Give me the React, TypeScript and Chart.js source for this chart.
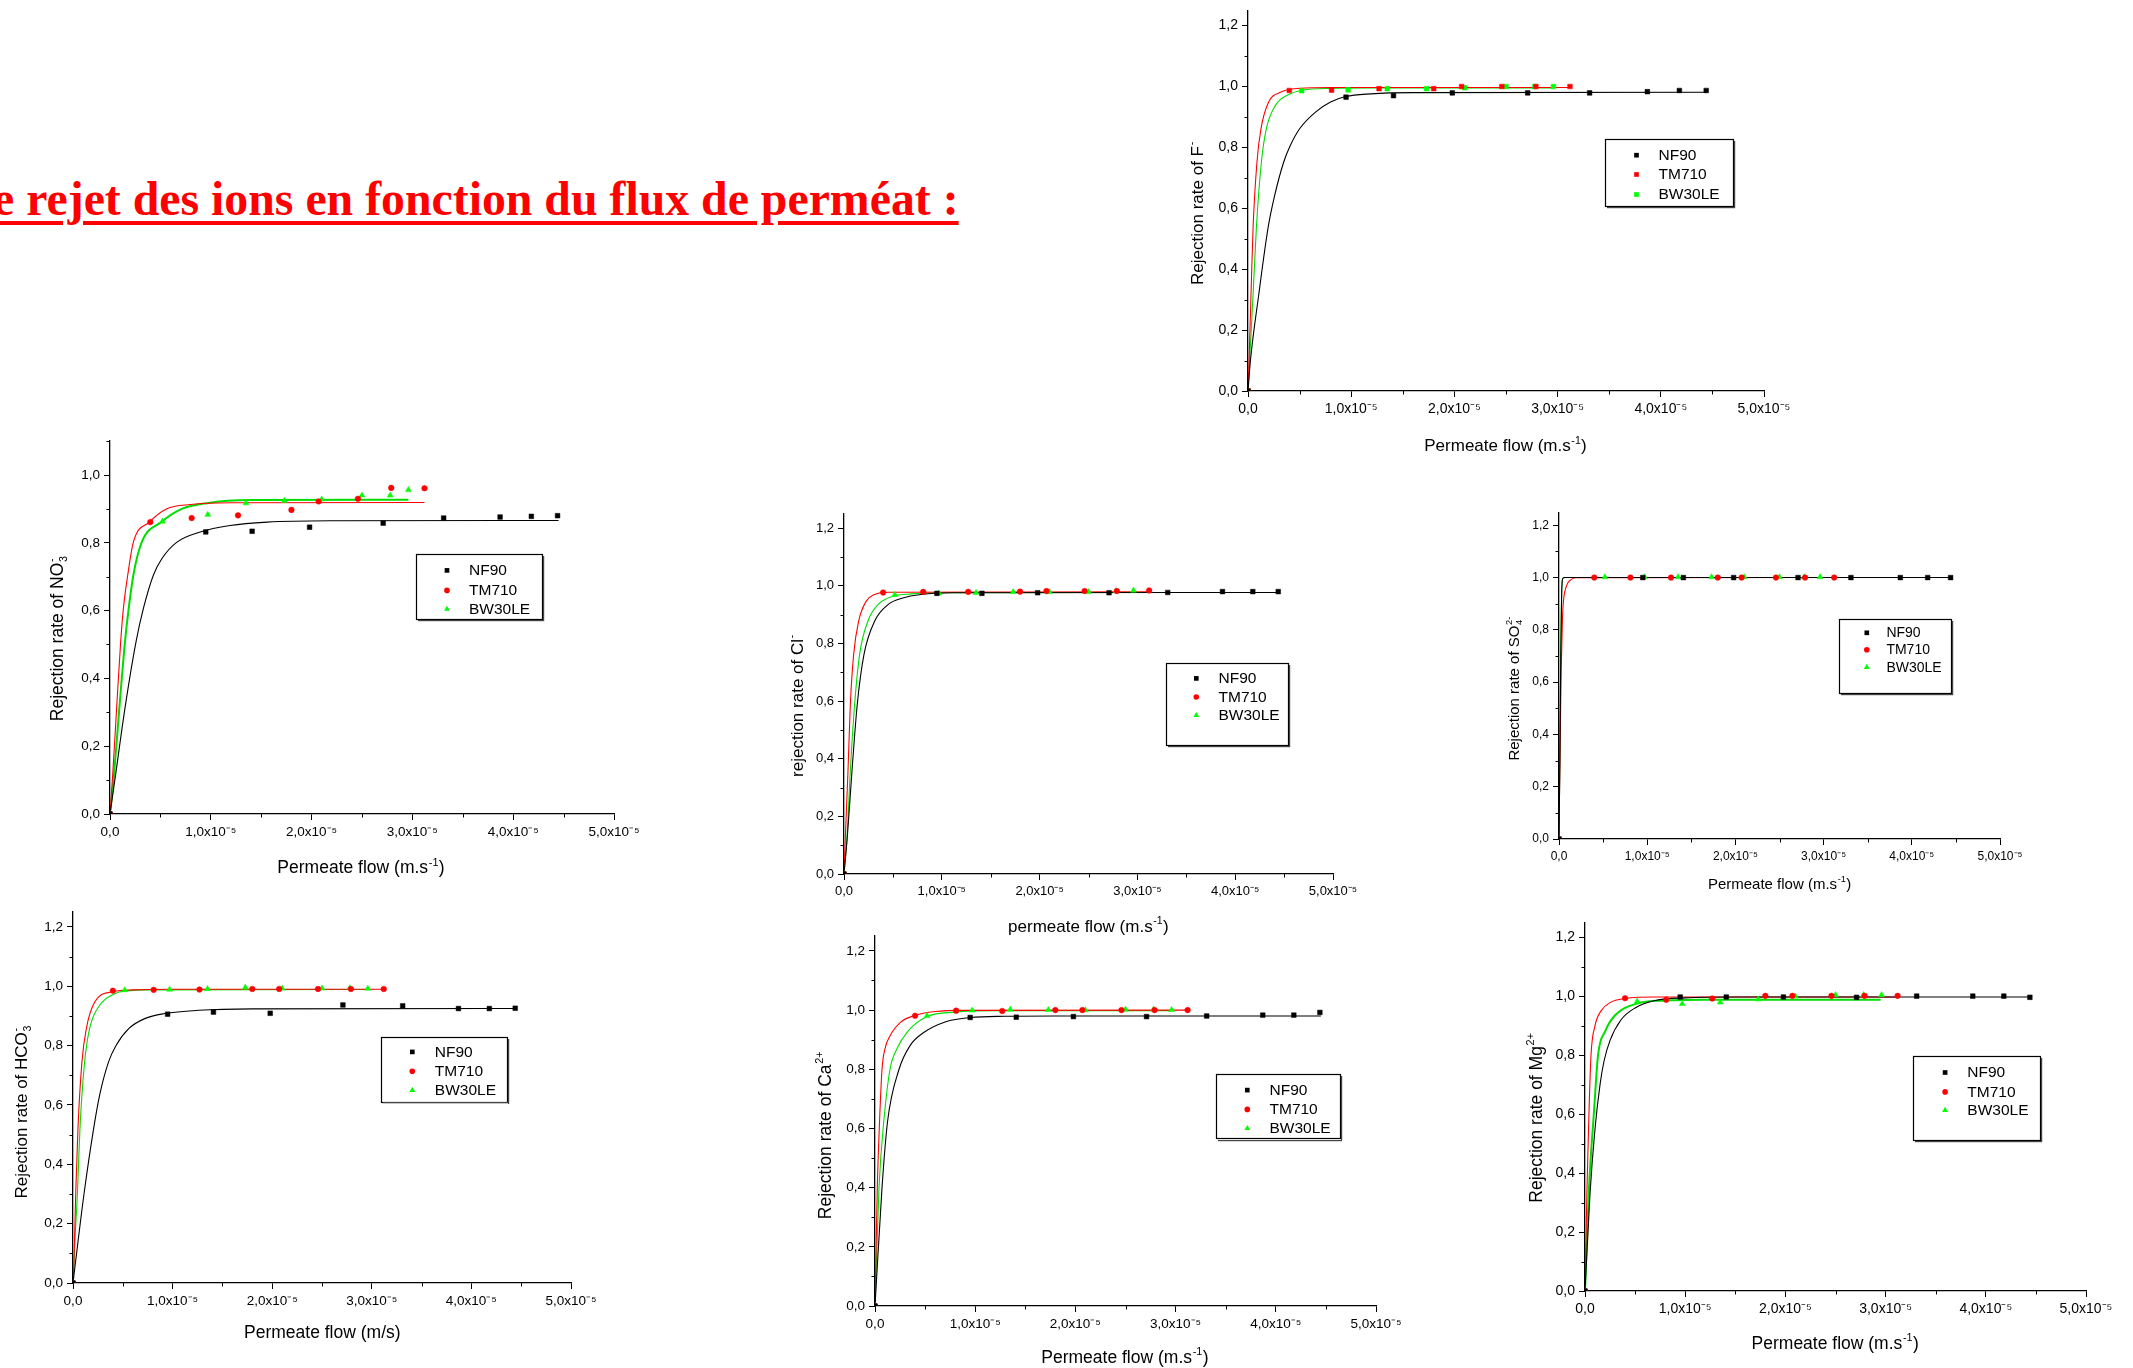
import React, { useEffect, useRef } from 'react';
import { Chart, registerables } from 'chart.js';

Chart.register(...registerables);

// ---------------- DATA ----------------
// Permeate flow, in units of 1e-5 m/s
const flowNF90 = [0, 0.95, 1.41, 1.98, 2.71, 3.31, 3.87, 4.18, 4.44];
const flowTM710 = [0, 0.40, 0.81, 1.27, 1.80, 2.07, 2.46, 2.79, 3.12];
const flowBW30LE = [0, 0.52, 0.97, 1.35, 1.73, 2.10, 2.50, 2.78, 2.96];

const membraneNames = ['NF90', 'TM710', 'BW30LE'];

// Rejection rates (measured points)
const rejF_NF90 = [0, 0.965, 0.970, 0.979, 0.979, 0.979, 0.983, 0.987, 0.987];
const rejF_TM710 = [0, 0.987, 0.988, 0.993, 0.993, 1.0, 1.0, 1.0, 1.0];
const rejF_BW30LE = [0, 0.986, 0.989, 0.993, 0.993, 0.996, 1.0, 1.0, 1.0];

const rejNO3_NF90 = [0, 0.832, 0.834, 0.846, 0.858, 0.873, 0.876, 0.878, 0.880];
const rejNO3_TM710 = [0, 0.861, 0.873, 0.881, 0.897, 0.922, 0.930, 0.962, 0.961];
const rejNO3_BW30LE = [0, 0.863, 0.883, 0.917, 0.924, 0.928, 0.940, 0.940, 0.956];

const rejCl_NF90 = [0, 0.974, 0.974, 0.976, 0.976, 0.977, 0.980, 0.980, 0.980];
const rejCl_TM710 = [0, 0.977, 0.979, 0.979, 0.980, 0.982, 0.982, 0.982, 0.984];
const rejCl_BW30LE = [0, 0.969, 0.974, 0.976, 0.979, 0.979, 0.979, 0.982, 0.984];

const rejSO4_NF90 = [0, 1.0, 1.0, 1.0, 1.0, 1.0, 1.0, 1.0, 1.0];
const rejSO4_TM710 = [0, 1.0, 1.0, 1.0, 1.0, 1.0, 1.0, 1.0, 1.0];
const rejSO4_BW30LE = [0, 1.002, 1.002, 1.002, 1.002, 1.002, 1.002, 1.002, 1.002];

const rejHCO3_NF90 = [0, 0.906, 0.913, 0.909, 0.937, 0.934, 0.925, 0.925, 0.926];
const rejHCO3_TM710 = [0, 0.985, 0.988, 0.989, 0.991, 0.991, 0.991, 0.991, 0.991];
const rejHCO3_BW30LE = [0, 0.987, 0.989, 0.991, 0.996, 0.993, 0.993, 0.994, 0.992];

const rejCa_NF90 = [0, 0.975, 0.976, 0.978, 0.978, 0.980, 0.983, 0.983, 0.992];
const rejCa_TM710 = [0, 0.981, 0.998, 0.997, 1.0, 1.0, 1.0, 1.0, 1.0];
const rejCa_BW30LE = [0, 0.981, 0.999, 1.002, 1.001, 1.0, 1.002, 1.002, 1.001];

const rejMg_NF90 = [0, 0.997, 0.997, 0.997, 0.996, 1.0, 1.0, 1.0, 0.996];
const rejMg_TM710 = [0, 0.993, 0.988, 0.992, 1.001, 1.001, 1.001, 1.001, 1.001];
const rejMg_BW30LE = [0, 0.982, 0.974, 0.979, 0.989, 0.999, 1.004, 1.004, 1.004];

// Fitted curves as [flow (1e-5 m/s), rejection]
type P = [number, number];
const fitF_NF90: P[] = [[0, 0], [0.023, 0.098], [0.104, 0.316], [0.194, 0.535], [0.259, 0.643], [0.347, 0.753], [0.411, 0.807], [0.502, 0.862], [0.654, 0.916], [0.8, 0.949], [0.946, 0.967], [1.19, 0.976], [1.6, 0.98], [4.45, 0.981]];
const fitF_TM710: P[] = [[0, 0], [0.01, 0.098], [0.029, 0.316], [0.049, 0.535], [0.087, 0.753], [0.126, 0.862], [0.2, 0.949], [0.314, 0.981], [0.5, 0.994], [0.8, 0.997], [3.13, 0.997]];
const fitF_BW30LE: P[] = [[0, 0], [0.049, 0.316], [0.081, 0.535], [0.13, 0.753], [0.178, 0.862], [0.266, 0.938], [0.41, 0.976], [0.525, 0.988], [0.8, 0.994], [1.2, 0.995], [2.96, 0.995]];

const fitNO3_NF90: P[] = [[0, 0], [0.056, 0.117], [0.149, 0.313], [0.259, 0.509], [0.332, 0.607], [0.431, 0.705], [0.514, 0.753], [0.664, 0.802], [0.896, 0.832], [1.19, 0.851], [1.56, 0.861], [2.2, 0.865], [4.45, 0.866]];
const fitNO3_TM710: P[] = [[0, 0], [0.027, 0.117], [0.066, 0.313], [0.106, 0.509], [0.133, 0.607], [0.176, 0.705], [0.232, 0.802], [0.39, 0.861], [0.56, 0.9], [0.8, 0.913], [1.2, 0.918], [3.12, 0.919]];
const fitNO3_BW30LE: P[] = [[0, 0], [0.04, 0.117], [0.093, 0.313], [0.149, 0.509], [0.186, 0.607], [0.232, 0.705], [0.315, 0.802], [0.508, 0.861], [0.713, 0.9], [0.96, 0.917], [1.4, 0.926], [2.96, 0.927]];

const fitCl_NF90: P[] = [[0, 0], [0.034, 0.129], [0.082, 0.359], [0.136, 0.59], [0.205, 0.763], [0.314, 0.878], [0.45, 0.935], [0.603, 0.958], [0.79, 0.97], [1.1, 0.976], [4.45, 0.977]];
const fitCl_TM710: P[] = [[0, 0], [0.014, 0.129], [0.041, 0.359], [0.065, 0.59], [0.099, 0.763], [0.15, 0.878], [0.228, 0.947], [0.314, 0.97], [0.45, 0.978], [3.12, 0.979]];
const fitCl_BW30LE: P[] = [[0, 0], [0.031, 0.129], [0.065, 0.359], [0.109, 0.59], [0.16, 0.763], [0.245, 0.878], [0.348, 0.935], [0.5, 0.964], [0.69, 0.972], [1.0, 0.976], [2.96, 0.977]];

const fitSO4_NF90: P[] = [[0, 0], [0.01, 0.3], [0.02, 0.7], [0.03, 0.93], [0.04, 0.995], [0.06, 1.0], [4.45, 1.0]];
const fitSO4_TM710: P[] = [[0, 0], [0.01, 0.3], [0.025, 0.65], [0.04, 0.85], [0.05, 0.908], [0.09, 0.972], [0.13, 0.99], [0.19, 0.999], [3.12, 1.0]];
const fitSO4_BW30LE: P[] = [[0, 0], [0.01, 0.35], [0.02, 0.75], [0.03, 0.95], [0.045, 0.997], [0.07, 1.0], [2.96, 1.0]];

const fitHCO3_NF90: P[] = [[0, 0], [0.027, 0.075], [0.11, 0.299], [0.208, 0.522], [0.268, 0.634], [0.358, 0.746], [0.435, 0.802], [0.562, 0.858], [0.72, 0.891], [0.92, 0.908], [1.26, 0.919], [1.8, 0.924], [4.45, 0.925]];
const fitHCO3_TM710: P[] = [[0, 0], [0.01, 0.075], [0.027, 0.299], [0.05, 0.522], [0.09, 0.746], [0.134, 0.858], [0.218, 0.947], [0.385, 0.981], [0.6, 0.988], [1.0, 0.99], [3.12, 0.99]];
const fitHCO3_BW30LE: P[] = [[0, 0], [0.02, 0.15], [0.044, 0.299], [0.07, 0.522], [0.117, 0.746], [0.167, 0.858], [0.268, 0.936], [0.418, 0.975], [0.52, 0.984], [0.8, 0.988], [2.96, 0.989]];

const fitCa_NF90: P[] = [[0, 0], [0.07, 0.4], [0.126, 0.625], [0.24, 0.8], [0.35, 0.88], [0.49, 0.925], [0.7, 0.96], [0.95, 0.975], [1.3, 0.979], [1.8, 0.98], [4.45, 0.98]];
const fitCa_TM710: P[] = [[0, 0], [0.023, 0.4], [0.045, 0.62], [0.07, 0.8], [0.1, 0.87], [0.145, 0.91], [0.26, 0.96], [0.39, 0.981], [0.6, 0.995], [0.9, 0.999], [3.12, 1.0]];
const fitCa_BW30LE: P[] = [[0, 0], [0.04, 0.4], [0.088, 0.625], [0.15, 0.8], [0.22, 0.87], [0.32, 0.925], [0.52, 0.978], [0.8, 0.993], [1.2, 0.998], [2.96, 0.998]];

const fitMg_NF90: P[] = [[0, 0], [0.05, 0.33], [0.1, 0.55], [0.15, 0.7], [0.19, 0.78], [0.25, 0.85], [0.36, 0.92], [0.5, 0.96], [0.7, 0.985], [1.0, 0.994], [1.5, 0.997], [4.45, 0.997]];
const fitMg_TM710: P[] = [[0, 0], [0.02, 0.35], [0.04, 0.609], [0.06, 0.8], [0.1, 0.9], [0.16, 0.95], [0.25, 0.978], [0.4, 0.992], [0.7, 0.997], [3.12, 0.997]];
const fitMg_BW30LE: P[] = [[0, 0], [0.04, 0.35], [0.09, 0.609], [0.13, 0.8], [0.2, 0.88], [0.3, 0.935], [0.52, 0.975], [0.8, 0.985], [1.2, 0.988], [2.95, 0.988]];

// ---------------- STYLE / LAYOUT ----------------
const FONT = '"Liberation Sans", Arial, sans-serif';
const ML = 78, MR = 50, MT = 10, MB = 78;
type Seg = { t?: string; sup?: string; sub?: string };
type Style = 'rect' | 'circle' | 'triangle';

const colors = ['#000000', '#ff0000', '#00ff00'];
const lineColors = ['#000000', '#ff0000', '#00dd00'];
const radius: Record<Style, number> = { rect: 3.3, circle: 2.8, triangle: 3.4 };

interface Panel {
  id: string;
  area: [number, number, number, number];
  yMax: number;
  tickSize: number; xTitleSize: number; yTitleSize: number; legendSize: number;
  xTitle: Seg[]; yTitle: Seg[];
  xTitleAt: [number, number]; yTitleAt: [number, number];
  legendBox: [number, number, number, number]; legendRows: number[]; legendMX: number; legendTX: number;
  styles: Style[];
  rej: number[][];
  fits: P[][];
  fitWidths?: number[];
}

const flows = [flowNF90, flowTM710, flowBW30LE];
const xTitleStd: Seg[] = [{ t: 'Permeate flow (m.s' }, { sup: '-1' }, { t: ')' }];
const stdStyles: Style[] = ['rect', 'circle', 'triangle'];

const panels: Panel[] = [
  {
    id: 'F', area: [1247.5, 7.8, 1763, 390.3], yMax: 1.25,
    tickSize: 14, xTitleSize: 17, yTitleSize: 17, legendSize: 15.5,
    xTitle: xTitleStd, yTitle: [{ t: 'Rejection rate of F' }, { sup: '-' }],
    xTitleAt: [1505, 445], yTitleAt: [1196, 213],
    legendBox: [1604, 139, 1732, 206], legendRows: [155, 174.3, 194.3], legendMX: 1636, legendTX: 1658,
    styles: ['rect', 'rect', 'rect'],
    rej: [rejF_NF90, rejF_TM710, rejF_BW30LE], fits: [fitF_NF90, fitF_TM710, fitF_BW30LE],
  },
  {
    id: 'NO3', area: [110, 438.6, 613.5, 813.3], yMax: 1.1,
    tickSize: 13.5, xTitleSize: 17.5, yTitleSize: 17.5, legendSize: 15.5,
    xTitle: xTitleStd, yTitle: [{ t: 'Rejection rate of NO' }, { sup: '-', sub: '3' }],
    xTitleAt: [361, 866.7], yTitleAt: [57, 638],
    legendBox: [415.5, 554, 541.6, 619], legendRows: [570, 590, 608.7], legendMX: 447, legendTX: 469,
    styles: stdStyles,
    rej: [rejNO3_NF90, rejNO3_TM710, rejNO3_BW30LE], fits: [fitNO3_NF90, fitNO3_TM710, fitNO3_BW30LE],
    fitWidths: [1.1, 1.1, 2],
  },
  {
    id: 'Cl', area: [844, 512.3, 1333, 874], yMax: 1.25,
    tickSize: 13, xTitleSize: 17, yTitleSize: 17, legendSize: 15.5,
    xTitle: [{ t: 'permeate flow (m.s' }, { sup: '-1' }, { t: ')' }], yTitle: [{ t: 'rejection rate of Cl' }, { sup: '-' }],
    xTitleAt: [1088.4, 926], yTitleAt: [796.4, 706],
    legendBox: [1165.7, 663.3, 1288.1, 745], legendRows: [678.7, 697.3, 715.7], legendMX: 1196.3, legendTX: 1218.5,
    styles: stdStyles,
    rej: [rejCl_NF90, rejCl_TM710, rejCl_BW30LE], fits: [fitCl_NF90, fitCl_TM710, fitCl_BW30LE],
  },
  {
    id: 'SO4', area: [1559, 510.5, 2000, 838], yMax: 1.25,
    tickSize: 12, xTitleSize: 15, yTitleSize: 15, legendSize: 14,
    xTitle: xTitleStd, yTitle: [{ t: 'Rejection rate of SO' }, { sup: '2-', sub: '4' }],
    xTitleAt: [1779.6, 883.3], yTitleAt: [1513.5, 688],
    legendBox: [1839, 618.3, 1950.7, 692.3], legendRows: [632.3, 649.3, 666.7], legendMX: 1866.8, legendTX: 1886.4,
    styles: stdStyles,
    rej: [rejSO4_NF90, rejSO4_TM710, rejSO4_BW30LE], fits: [fitSO4_NF90, fitSO4_TM710, fitSO4_BW30LE],
  },
  {
    id: 'HCO3', area: [73.3, 909.8, 571.3, 1282.3], yMax: 1.25,
    tickSize: 13.5, xTitleSize: 17.5, yTitleSize: 17, legendSize: 15.5,
    xTitle: [{ t: 'Permeate flow (m/s)' }], yTitle: [{ t: 'Rejection rate of HCO' }, { sup: '-', sub: '3' }],
    xTitleAt: [322.6, 1331.7], yTitleAt: [21, 1111.7],
    legendBox: [381.6, 1036.3, 507.1, 1101], legendRows: [1051.7, 1071, 1090], legendMX: 412.6, legendTX: 435.1,
    styles: stdStyles,
    rej: [rejHCO3_NF90, rejHCO3_TM710, rejHCO3_BW30LE], fits: [fitHCO3_NF90, fitHCO3_TM710, fitHCO3_BW30LE],
  },
  {
    id: 'Ca', area: [875, 933.9, 1376.3, 1306], yMax: 1.25,
    tickSize: 13.5, xTitleSize: 17.5, yTitleSize: 17.5, legendSize: 15.5,
    xTitle: xTitleStd, yTitle: [{ t: 'Rejection rate of Ca' }, { sup: '2+' }],
    xTitleAt: [1124.9, 1356.7], yTitleAt: [824.4, 1135],
    legendBox: [1216.3, 1074.3, 1340, 1138.7], legendRows: [1090, 1109.3, 1128.3], legendMX: 1247.3, legendTX: 1269.5,
    styles: stdStyles,
    rej: [rejCa_NF90, rejCa_TM710, rejCa_BW30LE], fits: [fitCa_NF90, fitCa_TM710, fitCa_BW30LE],
  },
  {
    id: 'Mg', area: [1584.8, 919.8, 2085.4, 1290.7], yMax: 1.25,
    tickSize: 14, xTitleSize: 17.5, yTitleSize: 17.5, legendSize: 15.5,
    xTitle: xTitleStd, yTitle: [{ t: 'Rejection rate of Mg' }, { sup: '2+' }],
    xTitleAt: [1835, 1342.3], yTitleAt: [1535.5, 1117.5],
    legendBox: [1912.6, 1056, 2039.4, 1140], legendRows: [1072.3, 1091.7, 1110], legendMX: 1944.9, legendTX: 1967.1,
    styles: stdStyles,
    rej: [rejMg_NF90, rejMg_TM710, rejMg_BW30LE], fits: [fitMg_NF90, fitMg_TM710, fitMg_BW30LE],
    fitWidths: [1.1, 1.1, 2],
  },
];

// ---------------- DRAW HELPERS ----------------
function drawRich(ctx: CanvasRenderingContext2D, segs: Seg[], x: number, y: number, rot: number, size: number) {
  ctx.save();
  ctx.translate(x, y);
  ctx.rotate(rot);
  const small = size * 0.62;
  const big = `${size}px ${FONT}`;
  const sm = `${small}px ${FONT}`;
  const widths = segs.map((s) => {
    if (s.t !== undefined) { ctx.font = big; return ctx.measureText(s.t).width; }
    ctx.font = sm;
    return Math.max(s.sup ? ctx.measureText(s.sup).width : 0, s.sub ? ctx.measureText(s.sub).width : 0) + size * 0.06;
  });
  const total = widths.reduce((a, b) => a + b, 0);
  let cx = -total / 2;
  const base = size * 0.36;
  ctx.fillStyle = '#000';
  ctx.textAlign = 'left';
  ctx.textBaseline = 'alphabetic';
  segs.forEach((s, i) => {
    if (s.t !== undefined) {
      ctx.font = big;
      ctx.fillText(s.t, cx, base);
    } else {
      ctx.font = sm;
      if (s.sup) ctx.fillText(s.sup, cx + size * 0.04, base - size * 0.45);
      if (s.sub) ctx.fillText(s.sub, cx + size * 0.04, base + size * 0.22);
    }
    cx += widths[i];
  });
  ctx.restore();
}

function drawMarker(ctx: CanvasRenderingContext2D, style: Style, x: number, y: number, color: string) {
  const r = radius[style];
  ctx.fillStyle = color;
  ctx.beginPath();
  if (style === 'rect') {
    const h = r * Math.SQRT1_2;
    ctx.rect(x - h, y - h, 2 * h, 2 * h);
  } else if (style === 'circle') {
    ctx.arc(x, y, r, 0, Math.PI * 2);
  } else {
    ctx.moveTo(x, y - r);
    ctx.lineTo(x + r * 0.866, y + r * 0.5);
    ctx.lineTo(x - r * 0.866, y + r * 0.5);
    ctx.closePath();
  }
  ctx.fill();
}

const fmtComma = (v: number) => v.toFixed(1).replace('.', ',');

function PanelChart({ p }: { p: Panel }) {
  const ref = useRef<HTMLCanvasElement | null>(null);
  const [L, T, R, B] = p.area;
  const left = L - ML;
  const top = T - MT;
  const width = Math.round(R - L + ML + MR);
  const height = Math.round(B - T + MT + MB);

  useEffect(() => {
    if (!ref.current) return;
    const datasets: any[] = [];
    p.fits.forEach((f, i) => {
      datasets.push({
        label: membraneNames[i] + ' fit',
        data: f.map(([x, y]) => ({ x, y })),
        showLine: true,
        pointRadius: 0,
        borderColor: lineColors[i],
        borderWidth: p.fitWidths ? p.fitWidths[i] : 1.1,
        cubicInterpolationMode: 'monotone',
        fill: false,
        order: 2,
      });
    });
    p.rej.forEach((ys, i) => {
      datasets.push({
        label: membraneNames[i],
        data: flows[i].map((x, k) => ({ x, y: ys[k] })),
        showLine: false,
        pointStyle: p.styles[i],
        pointRadius: radius[p.styles[i]],
        pointBackgroundColor: colors[i],
        pointBorderColor: colors[i],
        pointBorderWidth: 0.5,
        order: 1,
      });
    });

    const decor = {
      id: 'decor' + p.id,
      afterDraw(chart: any) {
        const ctx: CanvasRenderingContext2D = chart.ctx;
        const xs = chart.scales.x;
        const ysc = chart.scales.y;
        const ca = chart.chartArea;
        ctx.save();
        ctx.strokeStyle = '#000';
        ctx.lineWidth = 1;
        ctx.beginPath();
        for (let k = 1; k < 10; k += 2) {
          const px = Math.round(xs.getPixelForValue(k * 0.5)) + 0.5;
          ctx.moveTo(px, ca.bottom);
          ctx.lineTo(px, ca.bottom + 3.5);
        }
        for (let k = 1; k * 0.1 <= p.yMax + 1e-9; k += 2) {
          const py = Math.round(ysc.getPixelForValue(k * 0.1)) + 0.5;
          ctx.moveTo(ca.left - 3.5, py);
          ctx.lineTo(ca.left, py);
        }
        ctx.stroke();
        drawRich(ctx, p.xTitle, p.xTitleAt[0] - left, p.xTitleAt[1] - top, 0, p.xTitleSize);
        drawRich(ctx, p.yTitle, p.yTitleAt[0] - left, p.yTitleAt[1] - top, -Math.PI / 2, p.yTitleSize);
        const [bx1, by1, bx2, by2] = p.legendBox;
        ctx.fillStyle = '#ffffff';
        ctx.fillRect(bx1 - left, by1 - top, bx2 - bx1, by2 - by1);
        ctx.strokeStyle = '#000';
        ctx.lineWidth = 1.2;
        ctx.strokeRect(Math.round(bx1 - left) + 0.5, Math.round(by1 - top) + 0.5, Math.round(bx2 - bx1), Math.round(by2 - by1));
        ctx.fillStyle = '#444';
        ctx.fillRect(Math.round(bx1 - left) + 2, Math.round(by2 - top) + 1, Math.round(bx2 - bx1), 1.2);
        ctx.fillRect(Math.round(bx2 - left) + 1, Math.round(by1 - top) + 2, 1.2, Math.round(by2 - by1));
        membraneNames.forEach((name, i) => {
          const ry = p.legendRows[i] - top;
          drawMarker(ctx, p.styles[i], p.legendMX - left, ry, colors[i]);
          ctx.fillStyle = '#000';
          ctx.font = `${p.legendSize}px ${FONT}`;
          ctx.textAlign = 'left';
          ctx.textBaseline = 'middle';
          ctx.fillText(name, p.legendTX - left, ry + 0.5);
        });
        ctx.restore();
      },
    };

    const chart = new Chart(ref.current, {
      type: 'scatter',
      data: { datasets },
      options: {
        responsive: false,
        animation: false,
        events: [],
        layout: { padding: { left: 0, top: MT, right: MR, bottom: 0 } },
        plugins: { legend: { display: false }, tooltip: { enabled: false }, title: { display: false } },
        scales: {
          x: {
            type: 'linear',
            position: 'bottom',
            min: 0,
            max: 5,
            afterFit: (s: any) => { s.height = MB; },
            ticks: {
              stepSize: 1,
              includeBounds: false,
              autoSkip: false,
              maxRotation: 0,
              minRotation: 0,
              padding: 4,
              color: '#000',
              font: { family: FONT, size: p.tickSize },
              callback: (v: any) => (Number(v) === 0 ? '0,0' : `${fmtComma(Number(v))}x10⁻⁵`),
            },
            grid: { display: true, drawOnChartArea: false, drawTicks: true, tickLength: 6, color: '#000', lineWidth: 1 },
            border: { display: true, color: '#000', width: 1.3 },
          },
          y: {
            type: 'linear',
            position: 'left',
            min: 0,
            max: p.yMax,
            afterFit: (s: any) => { s.width = ML; },
            ticks: {
              stepSize: 0.2,
              includeBounds: false,
              autoSkip: false,
              padding: 4,
              color: '#000',
              font: { family: FONT, size: p.tickSize },
              callback: (v: any) => fmtComma(Number(v)),
            },
            grid: { display: true, drawOnChartArea: false, drawTicks: true, tickLength: 6, color: '#000', lineWidth: 1 },
            border: { display: true, color: '#000', width: 1.3 },
          },
        },
      } as any,
      plugins: [decor],
    });
    return () => chart.destroy();
  }, []);

  return (
    <canvas
      ref={ref}
      width={width}
      height={height}
      style={{ position: 'absolute', left, top, width, height, display: 'block' }}
    />
  );
}

export default function App() {
  return (
    <div style={{ position: 'absolute', left: 0, top: 0, width: 2133, height: 1368, overflow: 'hidden', background: '#ffffff' }}>
      <div
        style={{
          position: 'absolute',
          left: -7,
          top: 175,
          fontFamily: '"Liberation Serif", "Times New Roman", serif',
          fontWeight: 'bold',
          fontSize: 47.8,
          lineHeight: '47.8px',
          color: '#ff0000',
          textDecoration: 'underline',
          textDecorationThickness: '4px',
          textUnderlineOffset: '6px',
          whiteSpace: 'nowrap',
        }}
      >
        e rejet des ions en fonction du flux de perméat :
      </div>
      {panels.map((p) => (
        <PanelChart key={p.id} p={p} />
      ))}
    </div>
  );
}
